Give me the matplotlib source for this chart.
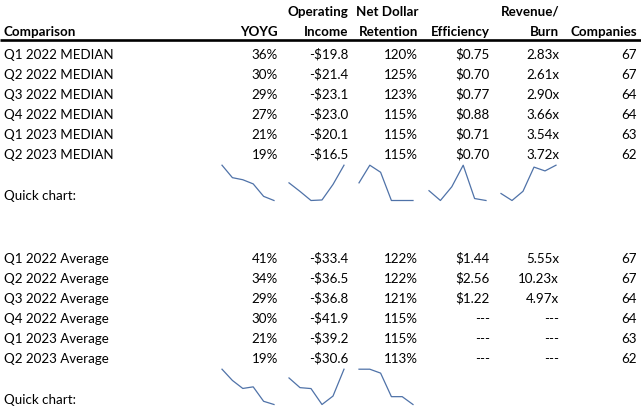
import matplotlib
matplotlib.use('Agg')
import matplotlib.pyplot as plt

# ---- data ----
columns = ['YOYG', 'Operating\nIncome', 'Net Dollar\nRetention', 'Efficiency', 'Revenue/\nBurn', 'Companies']

median_labels = ['Q1 2022 MEDIAN', 'Q2 2022 MEDIAN', 'Q3 2022 MEDIAN',
                 'Q4 2022 MEDIAN', 'Q1 2023 MEDIAN', 'Q2 2023 MEDIAN']
median_yoyg = [36, 30, 29, 27, 21, 19]
median_income = [-19.8, -21.4, -23.1, -23.0, -20.1, -16.5]
median_ndr = [120, 125, 123, 115, 115, 115]
median_eff = [0.75, 0.70, 0.77, 0.88, 0.71, 0.70]
median_burn = [2.83, 2.61, 2.90, 3.66, 3.54, 3.72]
median_companies = [67, 67, 64, 64, 63, 62]

avg_labels = ['Q1 2022 Average', 'Q2 2022 Average', 'Q3 2022 Average',
              'Q4 2022 Average', 'Q1 2023 Average', 'Q2 2023 Average']
avg_yoyg = [41, 34, 29, 30, 21, 19]
avg_income = [-33.4, -36.5, -36.8, -41.9, -39.2, -30.6]
avg_ndr = [122, 122, 121, 115, 115, 113]
avg_eff = [1.44, 2.56, 1.22, None, None, None]
avg_burn = [5.55, 10.23, 4.97, None, None, None]
avg_companies = [67, 67, 64, 64, 63, 62]

W, H = 641, 410
FONT = 'Lato'
FS = 9.6
SPARK = '#4f72a8'

# right edges of numeric columns (px)
col_right = [278, 348, 418, 490, 559, 637]
# sparkline boxes (left, right) per column
spark_x = [(222, 274), (289, 344), (359, 413), (429, 486), (501, 556)]


def fmt_pct(v):
    return f'{v}%'


def fmt_money(v):
    return f'-${abs(v):.1f}' if v < 0 else f'${v:.1f}'


def fmt_eff(v):
    return '---' if v is None else f'${v:.2f}'


def fmt_burn(v):
    return '---' if v is None else f'{v:.2f}x'


fig = plt.figure(figsize=(W / 100, H / 100), dpi=100)
ax = fig.add_axes([0, 0, 1, 1])
ax.set_xlim(0, W)
ax.set_ylim(H, 0)
ax.axis('off')

# header
ax.text(4, 36, 'Comparison', fontsize=FS, fontweight='bold', family=FONT, ha='left', va='baseline')
for x, col in zip(col_right, columns):
    parts = col.split('\n')
    if len(parts) == 2:
        ax.text(x, 16, parts[0], fontsize=FS, fontweight='bold', family=FONT, ha='right', va='baseline')
    ax.text(x, 36, parts[-1], fontsize=FS, fontweight='bold', family=FONT, ha='right', va='baseline')
ax.plot([0, W], [40.5, 40.5], color='black', lw=1.9, solid_capstyle='butt')


def draw_block(y0, labels, yoyg, income, ndr, eff, burn, companies):
    cols = [
        [fmt_pct(v) for v in yoyg],
        [fmt_money(v) for v in income],
        [fmt_pct(v) for v in ndr],
        [fmt_eff(v) for v in eff],
        [fmt_burn(v) for v in burn],
        [str(v) for v in companies],
    ]
    for i, lab in enumerate(labels):
        yb = y0 + 20 * i
        ax.text(4, yb, lab, fontsize=FS, family=FONT, ha='left', va='baseline')
        for x, vals in zip(col_right, cols):
            ax.text(x, yb, vals[i], fontsize=FS, family=FONT, ha='right', va='baseline')

    # quick chart row
    top = y0 + 107.5
    bottom = y0 + 142.8
    ax.text(4, y0 + 141.5, 'Quick chart:', fontsize=FS, family=FONT, ha='left', va='baseline')
    for (xl, xr), series in zip(spark_x, [yoyg, income, ndr, eff, burn]):
        if any(v is None for v in series):
            continue
        sax = fig.add_axes([xl / W, 1 - bottom / H, (xr - xl) / W, (bottom - top) / H])
        sax.plot(range(len(series)), series, color=SPARK, lw=0.9, clip_on=False)
        sax.set_xlim(0, len(series) - 1)
        sax.set_ylim(min(series), max(series))
        sax.axis('off')


draw_block(58.7, median_labels, median_yoyg, median_income, median_ndr,
           median_eff, median_burn, median_companies)
draw_block(262.7, avg_labels, avg_yoyg, avg_income, avg_ndr,
           avg_eff, avg_burn, avg_companies)

fig.savefig('out.png', dpi=100)
